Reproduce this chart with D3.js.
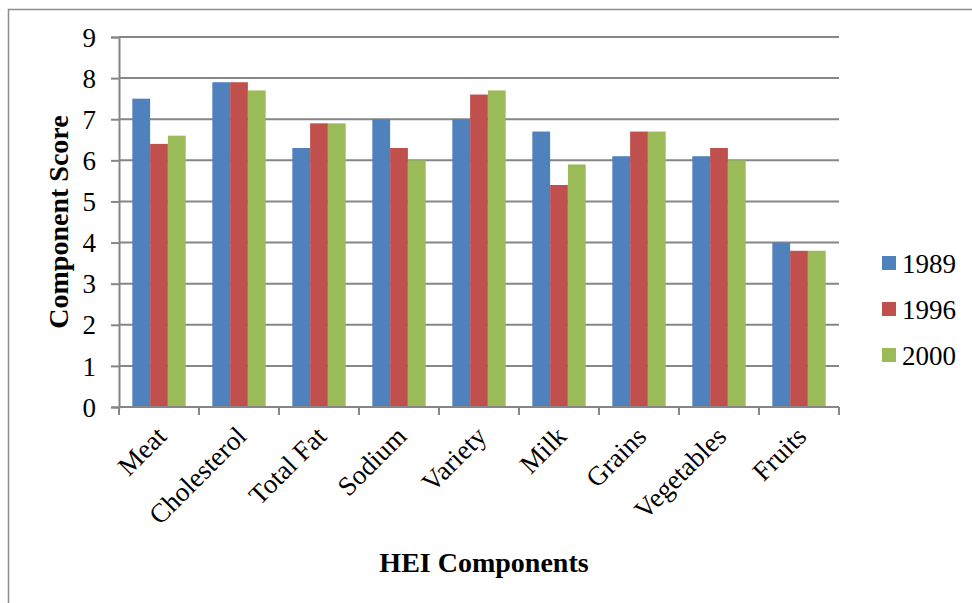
<!DOCTYPE html>
<html>
<meta charset="utf-8">
<style>
body { margin: 0; background: #fff; }
svg text { font-family: "Liberation Serif", "DejaVu Serif", serif !important; fill: #000; }
.grid line { stroke: #868686; stroke-width: 2px; }
.axis path, .axis line { stroke: #868686; stroke-width: 2px; }
</style>
<body>
<svg id="chart" width="972" height="603"></svg>
<script src="https://cdnjs.cloudflare.com/ajax/libs/d3/7.8.5/d3.min.js"></script>
<script>
// HEI component scores by survey year
var categories = ["Meat", "Cholesterol", "Total Fat", "Sodium", "Variety", "Milk", "Grains", "Vegetables", "Fruits"];
var years = ["1989", "1996", "2000"];
var scores1989 = [7.5, 7.9, 6.3, 7.0, 7.0, 6.7, 6.1, 6.1, 4.0];
var scores1996 = [6.4, 7.9, 6.9, 6.3, 7.6, 5.4, 6.7, 6.3, 3.8];
var scores2000 = [6.6, 7.7, 6.9, 6.0, 7.7, 5.9, 6.7, 6.0, 3.8];
var yTicks = [0, 1, 2, 3, 4, 5, 6, 7, 8, 9];
var colors = ["#4F81BD", "#C0504D", "#9BBB59"];

var series = [scores1989, scores1996, scores2000];

var svg = d3.select("#chart");
var margin = {left: 119, right: 133, top: 37, bottom: 196};
var width = 972 - margin.left - margin.right,
    height = 603 - margin.top - margin.bottom;

// outer chart border (only left/top visible in the crop)
svg.append("path")
    .attr("d", "M8.5,603V9.5H972")
    .attr("fill", "none")
    .attr("stroke", "#8c8c8c")
    .attr("stroke-width", 1.5);

var g = svg.append("g").attr("transform", "translate(" + margin.left + "," + margin.top + ")");

var x0 = d3.scaleBand().domain(categories).range([0, width]).paddingInner(0).paddingOuter(0);
var x1 = d3.scaleBand().domain(years).range([0, x0.bandwidth()]).paddingInner(0).paddingOuter(0.75);
var y = d3.scaleLinear().domain([0, 9]).range([height, 0]);

// gridlines
g.append("g").attr("class", "grid")
  .selectAll("line")
  .data(yTicks.filter(function(d) { return d > 0; }))
  .enter().append("line")
    .attr("x1", 0).attr("x2", width)
    .attr("y1", function(d) { return y(d); })
    .attr("y2", function(d) { return y(d); });

// bars
var groups = g.selectAll(".cat")
  .data(categories)
  .enter().append("g")
    .attr("class", "cat")
    .attr("transform", function(d) { return "translate(" + x0(d) + ",0)"; });

groups.selectAll("rect")
  .data(function(d, i) { return years.map(function(yr, j) { return {year: yr, value: series[j][i], k: j}; }); })
  .enter().append("rect")
    .attr("x", function(d) { return x1(d.year); })
    .attr("width", x1.bandwidth())
    .attr("y", function(d) { return y(d.value); })
    .attr("height", function(d) { return height - y(d.value); })
    .attr("fill", function(d) { return colors[d.k]; });

// y axis
var yAxis = g.append("g").attr("class", "axis")
    .call(d3.axisLeft(y).tickValues(yTicks).tickSize(8).tickPadding(15).tickFormat(d3.format("d")));
yAxis.attr("font-family", null).attr("font-size", null);
yAxis.selectAll("text").style("font-size", "27px").attr("dy", "0.34em");

// x axis
var xTickPos = d3.range(categories.length + 1).map(function(i) { return i * x0.bandwidth(); });
var xAxis = g.append("g").attr("class", "axis")
    .attr("transform", "translate(0," + height + ")");
xAxis.append("line").attr("x1", 0).attr("x2", width).attr("y1", 0).attr("y2", 0);
xAxis.selectAll(".xtick")
  .data(xTickPos)
  .enter().append("line")
    .attr("class", "xtick")
    .attr("x1", function(d) { return d; }).attr("x2", function(d) { return d; })
    .attr("y1", 0).attr("y2", 8);
xAxis.selectAll(".xlabel")
  .data(categories)
  .enter().append("text")
    .attr("class", "xlabel")
    .attr("text-anchor", "end")
    .style("font-size", "27px")
    .attr("transform", function(d) {
      return "translate(" + (x0(d) + x0.bandwidth() / 2 + 9) + ",31) rotate(-45)";
    })
    .text(function(d) { return d; });

// axis titles
svg.append("text")
    .attr("transform", "translate(68," + (margin.top + height / 2) + ") rotate(-90)")
    .attr("text-anchor", "middle")
    .style("font-size", "28px")
    .style("font-weight", "bold")
    .text("Component Score");

svg.append("text")
    .attr("x", 484).attr("y", 572)
    .attr("text-anchor", "middle")
    .style("font-size", "28px")
    .style("font-weight", "bold")
    .text("HEI Components");

// legend
var legend = svg.append("g").attr("transform", "translate(882,256)");
var item = legend.selectAll("g")
  .data(years)
  .enter().append("g")
    .attr("transform", function(d, i) { return "translate(0," + (i * 46) + ")"; });
item.append("rect").attr("width", 14).attr("height", 14)
    .attr("fill", function(d, i) { return colors[i]; });
item.append("text")
    .attr("x", 20).attr("y", 7).attr("dy", "0.36em")
    .style("font-size", "27px")
    .text(function(d) { return d; });
</script>
</body>
</html>
